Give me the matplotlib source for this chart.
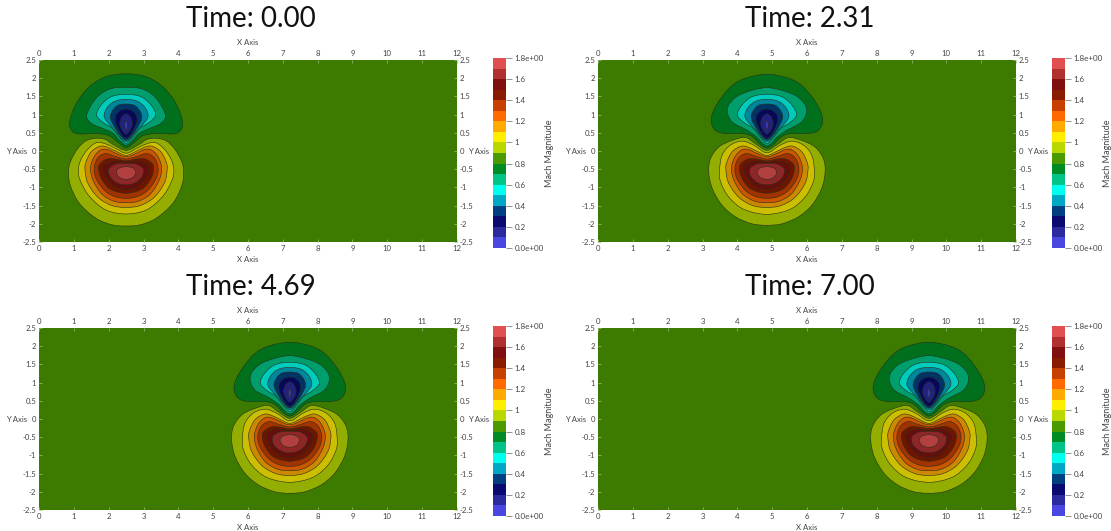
import numpy as np
import matplotlib
matplotlib.use("Agg")
import matplotlib.pyplot as plt
from matplotlib.colors import ListedColormap, BoundaryNorm, to_rgb
from matplotlib.patches import PathPatch
from matplotlib.path import Path
from matplotlib.cm import ScalarMappable

plt.rcParams['font.family'] = ['Lato', 'DejaVu Sans']

times = [0.00, 2.31, 4.69, 7.00]
centers = [2.5, 4.85, 7.2, 9.5]

# colour of each 0.1 wide bin, 0.0 -> 1.8 (colorbar)
barColors = ['#4848e0', '#2a2a9e', '#0a0a70', '#004080', '#00a8c4', '#00ffee',
             '#00c488', '#008c24', '#4a9a00', '#b8d800', '#ffee00', '#ffaa00',
             '#ff6a00', '#c84000', '#8a1a00', '#801010', '#b03030', '#e05050']
background = '#3d7b00'
shade = 0.8

# right half of every contour, as (distance from vortex centre, y)
# upper lobe, outer to inner
upper07 = [(0, 2.12), (.58, 2.04), (1.05, 1.77), (1.43, 1.31), (1.62, .81), (1.56, .56), (1.36, .47), (.86, .48), (.48, .42), (.24, .24), (0, .09)]
upper06 = [(0, 1.75), (.48, 1.70), (.86, 1.45), (1.13, .99), (1.0, .76), (.67, .62), (.38, .49), (.2, .3), (0, .16)]
upper05 = [(0, 1.56), (.43, 1.49), (.72, 1.26), (.85, .99), (.67, .79), (.39, .62), (.2, .39), (0, .21)]
upper04 = [(0, 1.42), (.34, 1.36), (.56, 1.17), (.63, .94), (.48, .73), (.29, .53), (.12, .33), (0, .26)]
upper03 = [(0, 1.29), (.25, 1.25), (.41, 1.08), (.45, .9), (.34, .67), (.18, .44), (0, .3)]
upper02 = [(0, 1.15), (.15, 1.12), (.29, .99), (.31, .81), (.21, .58), (.1, .41), (0, .35)]
upper01 = [(0, 1.02), (.12, .94), (.18, .76), (.12, .58), (0, .46)]
upper00 = [(0, .85), (.04, .71), (0, .58)]
# lower lobe, outer to inner
lower09 = [(0, .02), (.39, .19), (.6, .32), (.86, .35), (1.15, .28), (1.4, .05), (1.6, -.3), (1.65, -.57), (1.6, -.95), (1.34, -1.44), (.86, -1.85), (.39, -2.03), (0, -2.06)]
lower10 = [(0, -.06), (.3, .07), (.6, .2), (.85, .23), (1.1, .05), (1.29, -.22), (1.37, -.5), (1.32, -.8), (1.05, -1.25), (.58, -1.62), (0, -1.73)]
lower11 = [(0, -.12), (.3, .0), (.55, .11), (.75, .13), (1.0, -.02), (1.15, -.3), (1.18, -.5), (1.1, -.88), (.8, -1.28), (.4, -1.5), (0, -1.55)]
lower12 = [(0, -.16), (.3, -.06), (.5, .03), (.7, .04), (.9, -.13), (1.02, -.45), (.95, -.8), (.7, -1.18), (.35, -1.38), (0, -1.42)]
lower13 = [(0, -.22), (.3, -.15), (.6, -.07), (.82, -.2), (.92, -.48), (.85, -.78), (.6, -1.1), (.3, -1.26), (0, -1.3)]
lower14 = [(0, -.27), (.3, -.22), (.55, -.22), (.75, -.35), (.79, -.5), (.7, -.78), (.45, -1.05), (0, -1.16)]
lower15 = [(0, -.31), (.35, -.28), (.6, -.38), (.66, -.5), (.55, -.75), (.3, -.98), (0, -1.05)]
lower16 = [(0, -.34), (.3, -.36), (.5, -.5), (.45, -.72), (.25, -.88), (0, -.93)]
lower17 = [(0, -.43), (.2, -.47), (.28, -.58), (.2, -.72), (0, -.78)]

# outer contours once the vortex has moved, they get more angular
upper07Late = [(0, 2.11), (.62, 2.0), (1, 1.8), (1.33, 1.44), (1.55, 1.07), (1.6, .8), (1.48, .57), (1.19, .48), (.71, .48), (.43, .40), (.19, .18), (0, .08)]
upper06Late = [(0, 1.74), (.67, 1.59), (1, 1.39), (1.14, 1.12), (1, .8), (.57, .57), (.29, .38), (.14, .22), (0, .14)]
lower09Late = [(0, .02), (.33, .2), (.62, .37), (1, .29), (1.38, .11), (1.62, -.21), (1.67, -.58), (1.57, -1.03), (1.29, -1.49), (.9, -1.81), (.43, -2.0), (0, -2.04)]
lower10Late = [(0, -.05), (.38, .16), (.71, .27), (1.05, .16), (1.29, -.12), (1.36, -.53), (1.33, -.85), (1.1, -1.26), (.67, -1.6), (0, -1.74)]

outlinesFirst = [upper07, upper06, upper05, upper04, upper03, upper02, upper01, upper00,
                 lower09, lower10, lower11, lower12, lower13, lower14, lower15, lower16, lower17]
outlinesLate = [upper07Late, upper06Late, upper05, upper04, upper03, upper02, upper01, upper00,
                lower09Late, lower10Late, lower11, lower12, lower13, lower14, lower15, lower16, lower17]
outlineBins = [7, 6, 5, 4, 3, 2, 1, 0, 9, 10, 11, 12, 13, 14, 15, 16, 17]

xTicks = list(range(13))
yTicks = [-2.5, -2, -1.5, -1, -0.5, 0, 0.5, 1, 1.5, 2, 2.5]
yTickLabels = ['-2.5', '-2', '-1.5', '-1', '-0.5', '0', '0.5', '1', '1.5', '2', '2.5']
barTicks = [0, .2, .4, .6, .8, 1, 1.2, 1.4, 1.6, 1.8]
barTickLabels = ['0.0e+00', '0.2', '0.4', '0.6', '0.8', '1', '1.2', '1.4', '1.6', '1.8e+00']

W, H = 1111, 531


def axBox(left, top, width, height):
    return [left / W, 1 - (top + height) / H, width / W, height / H]


def closedPath(half, cx):
    half = np.array(half, dtype=float)
    left = half[::-1][1:-1].copy()
    left[:, 0] *= -1
    pts = np.vstack([half, left])
    pts[:, 0] += cx
    # bezier segments that go through the read points
    n = len(pts)
    verts = [pts[0]]
    codes = [Path.MOVETO]
    for k in range(n):
        p0, p1, p2, p3 = pts[k - 1], pts[k], pts[(k + 1) % n], pts[(k + 2) % n]
        verts += [p1 + (p2 - p0) / 6, p2 - (p3 - p1) / 6, p2]
        codes += [Path.CURVE4] * 3
    return Path(verts, codes)


def darker(color, k):
    return tuple(c * k for c in to_rgb(color))


fig = plt.figure(figsize=(W / 100, H / 100), dpi=100)
cmap = ListedColormap(barColors)
norm = BoundaryNorm(np.linspace(0, 1.8, 19), cmap.N)
txt = '#444444'

for i in range(4):
    left = [39, 598][i % 2]
    top = [60, 328][i // 2]
    ax = fig.add_axes(axBox(left, top, 418, 182))
    ax.set_xlim(0, 12)
    ax.set_ylim(-2.5, 2.5)
    ax.set_facecolor(background)
    for s in ax.spines.values():
        s.set_visible(False)

    outlines = outlinesFirst if i == 0 else outlinesLate
    for half, b in zip(outlines, outlineBins):
        ax.add_patch(PathPatch(closedPath(half, centers[i]), facecolor=darker(barColors[b], shade),
                               edgecolor='#26301a', linewidth=0.4))

    ax.set_xticks(xTicks)
    ax.set_yticks(yTicks, yTickLabels)
    ax.tick_params(axis='both', direction='in', length=2.5, width=0.5, color='#9fbf80',
                   labelsize=5.6, labelcolor=txt, pad=2, top=True, right=True,
                   labeltop=True, labelright=True)
    ax.text(0.5, 1.075, 'X Axis', transform=ax.transAxes, ha='center', va='bottom', fontsize=5.6, color=txt)
    ax.text(0.5, -0.075, 'X Axis', transform=ax.transAxes, ha='center', va='top', fontsize=5.6, color=txt)
    ax.text(-0.028, 0.5, 'Y Axis', transform=ax.transAxes, ha='right', va='center', fontsize=5.6, color=txt)
    ax.text(1.027, 0.5, 'Y Axis', transform=ax.transAxes, ha='left', va='center', fontsize=5.6, color=txt)
    fig.text((left + 212) / W, 1 - (top - 41) / H, f'Time: {times[i]:.2f}', ha='center', va='center',
             fontsize=20, color='#111111')

    cax = fig.add_axes(axBox(left + 454, top - 2, 13, 190))
    cb = fig.colorbar(ScalarMappable(norm=norm, cmap=cmap), cax=cax, boundaries=np.linspace(0, 1.8, 19),
                      spacing='proportional')
    cb.outline.set_visible(False)
    cb.set_ticks(barTicks, labels=barTickLabels)
    cb.minorticks_off()
    cax.tick_params(length=4, width=0.5, color='#666666', labelsize=5.8, labelcolor=txt, pad=2)
    fig.text((left + 510) / W, 1 - (top + 93) / H, 'Mach Magnitude', rotation=90, ha='center', va='center',
             fontsize=6.5, color=txt)

fig.savefig('out.png', dpi=100)
